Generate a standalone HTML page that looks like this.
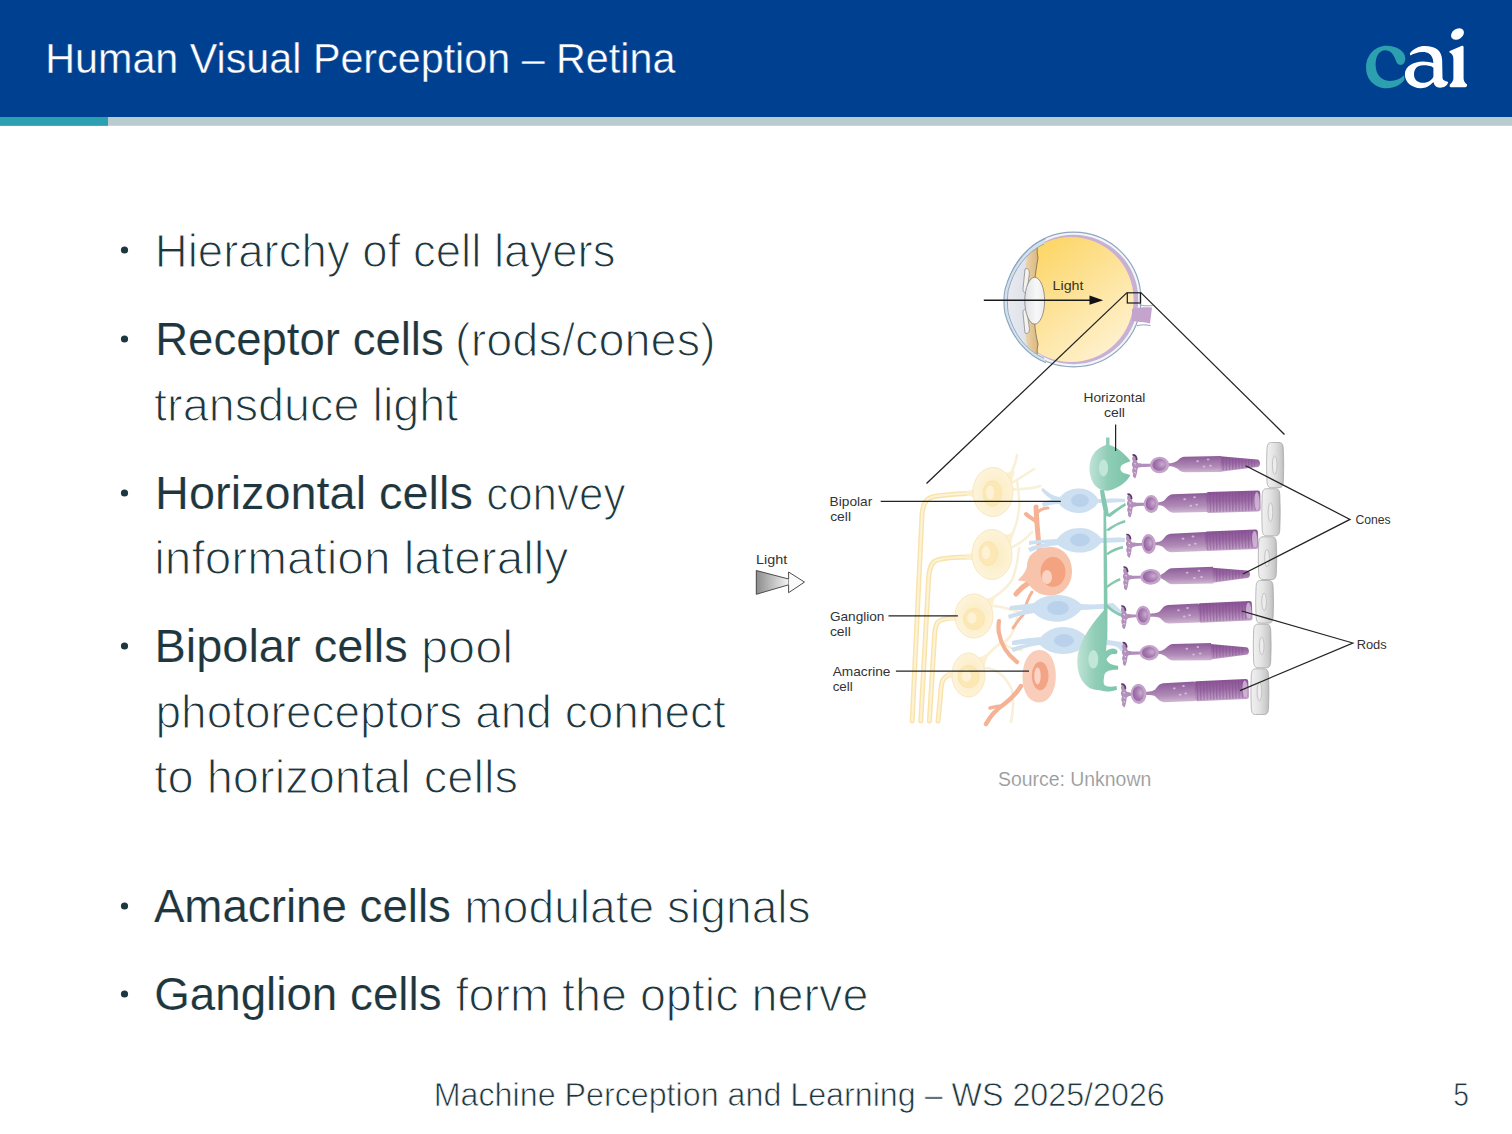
<!DOCTYPE html>
<html><head><meta charset="utf-8"><style>
html,body{margin:0;padding:0;background:#fff;}
svg{display:block;}
text{font-family:"Liberation Sans",sans-serif;white-space:pre;}
</style></head><body>
<svg width="1512" height="1134" viewBox="0 0 1512 1134">
<rect x="0" y="0" width="1512" height="1134" fill="#fff"/>
<rect x="0" y="0" width="1512" height="117.2" fill="#004091"/>
<rect x="0" y="117" width="1512" height="8.8" fill="#b9cbce"/>
<rect x="0" y="117" width="108" height="8.8" fill="#2ca0b0"/>
<g transform="translate(1360,22) scale(0.076057)">
<path fill="#2ca0ae" d="M530,565 C575,565 598,525 595,470 C590,380 480,312 350,312 C190,312 80,440 80,600 C80,760 200,870 350,870 C460,870 540,820 585,760 L580,700 C540,740 470,775 390,775 C270,775 205,680 205,560 C205,440 260,370 330,370 C400,370 440,420 465,490 C480,540 500,565 530,565 Z"/>
<path fill="#fff" fill-rule="evenodd" d="M655,415 C700,350 780,315 850,315 C1000,315 1075,380 1080,500 L1085,740 C1090,770 1120,775 1160,790 C1150,840 1100,865 1055,865 C1000,865 975,830 965,790 C920,840 870,870 800,870 C680,870 590,790 590,690 C590,580 700,525 830,520 C880,520 930,530 965,540 L960,500 C945,430 900,395 820,395 C760,395 700,420 660,440 Z M965,600 C930,575 880,570 830,570 C750,570 710,620 710,690 C710,760 760,800 830,800 C900,800 945,760 965,720 Z"/>
<path fill="#fff" d="M1180,380 L1340,312 C1355,310 1362,318 1362,330 L1362,740 C1362,780 1380,800 1405,820 C1415,835 1405,858 1385,858 L1195,858 C1178,858 1172,840 1185,820 C1210,795 1228,775 1228,740 L1228,490 C1228,440 1210,420 1185,405 C1172,398 1172,385 1180,380 Z"/>
<ellipse fill="#fff" cx="1282" cy="158" rx="92" ry="68" transform="rotate(-35 1282 158)"/>
</g>

<defs>
 <linearGradient id="eyeY" x1="0.15" y1="0.05" x2="0.85" y2="0.95">
  <stop offset="0" stop-color="#fcd45e"/>
  <stop offset="0.5" stop-color="#fde39a"/>
  <stop offset="1" stop-color="#fff2d2"/>
 </linearGradient>
 <linearGradient id="corn" x1="0" y1="0" x2="1" y2="0">
  <stop offset="0" stop-color="#f2f3f7"/>
  <stop offset="1" stop-color="#d8dbe5"/>
 </linearGradient>
 <linearGradient id="tan" x1="0" y1="0" x2="1" y2="0">
  <stop offset="0" stop-color="#ecd6ad"/>
  <stop offset="1" stop-color="#d9b47c"/>
 </linearGradient>
 <linearGradient id="lensg" x1="0" y1="0" x2="1" y2="0">
  <stop offset="0" stop-color="#e2e3e8"/>
  <stop offset="0.6" stop-color="#f8f8f8"/>
  <stop offset="1" stop-color="#ececee"/>
 </linearGradient>
 <clipPath id="eyeclip"><circle cx="1073.5" cy="299.5" r="65.6"/></clipPath>
</defs>
<!-- sclera outer -->
<circle cx="1073.5" cy="299.5" r="67.4" fill="#f3f6f9" stroke="#8ea7bf" stroke-width="1.2"/>
<circle cx="1073.5" cy="299.5" r="64.8" fill="#c8b0d5"/>
<circle cx="1071" cy="299.5" r="62.6" fill="url(#eyeY)"/>
<path d="M1132,309 C1138,307.5 1145,307 1152,307.5 L1150,323.5 C1144,322 1138,321.5 1132,321 Z" fill="#c4a3cc"/><path d="M1139.5,304.8 C1144,306 1148,306 1152.8,305.6 M1137,325.6 C1141,324.6 1146,324.6 1150.6,325.6" fill="none" stroke="#8ea7bf" stroke-width="1"/>
<g clip-path="url(#eyeclip)">
 <path d="M990,225 L1039,225 C1037,240 1036.5,250 1038,258 C1035,275 1033.5,288 1035,301 C1033.5,316 1034.5,330 1038,344 C1036.5,352 1037,362 1039,375 L990,375 Z" fill="url(#corn)"/>
 <path d="M1030,240 L1039,240 C1037,245 1036.5,250 1038,258 C1035,275 1033.5,288 1035,301 C1033.5,316 1034.5,330 1038,344 C1036.5,350 1037,355 1039,362 L1030,362 C1028,350 1025.5,340 1025,325 L1025,276 C1025.5,262 1028,250 1030,240 Z" fill="url(#tan)"/>
 <path d="M1039,238 C1037,245 1036.5,250 1038,258 C1035,275 1033.5,288 1035,301 C1033.5,316 1034.5,330 1038,344 C1036.5,352 1037,356 1039,364" fill="none" stroke="#7b6a50" stroke-width="0.8"/>
</g>
<!-- cornea bulge band -->
<path d="M1046,238.3 C1026,246.5 1011,267 1005,289.5 C1003.6,295.5 1003.6,307.5 1005,313.5 C1011,336 1026,355 1046,362.7 L1044,358.2 C1026,350.5 1013,333 1008.2,312.3 C1007.2,306.5 1007.2,296.5 1008.2,290.7 C1013,270 1026,252.5 1044,243.8 Z" fill="#d4e0ec"/>
<path d="M1046,238.3 C1026,246.5 1011,267 1005,289.5 C1003.6,295.5 1003.6,307.5 1005,313.5 C1011,336 1026,355 1046,362.7" fill="none" stroke="#8aa5c1" stroke-width="1.1"/>
<path d="M1044,243.8 C1026,252.5 1013,270 1008.2,290.7 C1007.2,296.5 1007.2,306.5 1008.2,312.3 C1013,333 1026,350.5 1044,358.2" fill="none" stroke="#8aa3bf" stroke-width="0.9"/>
<!-- iris tabs -->
<path d="M1025,269 C1028,267.5 1030,270 1029.2,275 L1027,291 C1025.5,293.5 1022.5,292.5 1023,289 Z" fill="#f3f2f0" stroke="#7f7f7c" stroke-width="0.7"/>
<path d="M1025,333 C1028,334.5 1030,332 1029.2,327 L1027,311 C1025.5,308.5 1022.5,309.5 1023,313 Z" fill="#f3f2f0" stroke="#7f7f7c" stroke-width="0.7"/>
<!-- lens -->
<ellipse cx="1034.7" cy="300.7" rx="9.9" ry="23.4" fill="url(#lensg)" stroke="#7e7e7e" stroke-width="0.8"/>
<!-- light arrow -->
<line x1="983.8" y1="300.2" x2="1091" y2="300.2" stroke="#1a1a1a" stroke-width="1.4"/>
<path d="M1089.5,295.6 L1103.2,300.2 L1089.5,304.8 Z" fill="#111"/>
<!-- box -->
<rect x="1127.3" y="292.8" width="13.1" height="10.2" fill="none" stroke="#1a1a1a" stroke-width="1.2"/>
<!-- zoom lines -->
<line x1="1127" y1="292.6" x2="926.5" y2="483.5" stroke="#222" stroke-width="1.3"/>
<line x1="1140.6" y1="292.4" x2="1284.5" y2="434.5" stroke="#222" stroke-width="1.3"/>
<!-- ganglion axons -->
<g fill="none" stroke-linecap="round">
 <g stroke="#f8e3ab" stroke-width="5">
  <path d="M975,493 C955,494 942,494.5 932,497 C925,499 922.5,506 922,515 L912.2,721"/>
  <path d="M972,557 C956,557 944,557.5 936,560.5 C930.5,563 929,570 928.5,580 L920.8,721"/>
  <path d="M956,617.8 C947,618 941,619 937.5,622.5 C935,626 934.5,632 934.3,640 L929.4,721"/>
  <path d="M953,674.6 C948,675 944.5,676.5 942.5,681 C941,685 940.7,690 940.5,696 L938,721"/>
 </g>
 <g stroke="#fdf2d4" stroke-width="2.2">
  <path d="M975,493 C955,494 942,494.5 932,497 C925,499 922.5,506 922,515 L912.2,721"/>
  <path d="M972,557 C956,557 944,557.5 936,560.5 C930.5,563 929,570 928.5,580 L920.8,721"/>
  <path d="M956,617.8 C947,618 941,619 937.5,622.5 C935,626 934.5,632 934.3,640 L929.4,721"/>
  <path d="M953,674.6 C948,675 944.5,676.5 942.5,681 C941,685 940.7,690 940.5,696 L938,721"/>
 </g>
 <!-- ganglion dendrites / IPL tangles -->
 <g stroke="#f8f0d8" stroke-width="2.6">
  <path d="M1008,478 C1013,470 1016,462 1017,455"/>
  <path d="M1010,484 C1020,478 1028,473 1034,469"/>
  <path d="M1011,490 C1022,488 1030,490 1040,486"/>
  <path d="M1009,540 C1014,532 1018,522 1019,508 C1020,498 1018,490 1017,480"/>
  <path d="M1010,548 C1018,545 1025,540 1032,532"/>
  <path d="M990,600 C998,594 1006,590 1012,580 C1016,570 1018,560 1019,548"/>
  <path d="M989,606 C1000,605 1010,610 1020,612"/>
  <path d="M983,660 C990,652 996,645 1003,642 C1010,640 1015,630 1017,618"/>
  <path d="M984,668 C995,668 1005,675 1012,690 C1014,700 1013,712 1011,722"/>
  <path d="M1003,642 C1008,648 1014,650 1022,650"/>
 </g>
</g>
<!-- ganglion somas -->
<path d="M983.0,473.6 C975.0,484.6 977,490.5 967,490.9 L967,496.1 C977,496.5 975.0,499.4 983.0,510.4 Z" fill="#fcefcc"/>
<path d="M997.0,469.9 C1005.0,472.4 1008,474 1013,470 L1015,472 C1012,478 1011.0,489.6 1011.0,496.9 Z" fill="#fcf0d2"/>
<ellipse cx="993" cy="492" rx="20" ry="24.5" fill="url(#gang)" stroke="#f9e8bc" stroke-width="1"/>
<path d="M982.0,535.8 C974.0,547.0 976,554 966,554.4 L966,559.6 C976,560 974.0,562.0 982.0,573.2 Z" fill="#fcefcc"/>
<path d="M996.0,532.0 C1004.0,534.5 1007,536 1012,532 L1014,534 C1011,540 1010.0,552.0 1010.0,559.5 Z" fill="#fcf0d2"/>
<ellipse cx="992" cy="554.5" rx="20" ry="25" fill="url(#gang)" stroke="#f9e8bc" stroke-width="1"/>
<path d="M964.5,599.5 C956.9,609.4 960,614.8 950,615.1999999999999 L950,620.4 C960,620.8 956.9,622.6 964.5,632.5 Z" fill="#fcefcc"/>
<path d="M977.8,596.2 C985.4,598.4 988,600 993,596 L995,598 C992,604 991.1,613.8 991.1,620.4 Z" fill="#fcf0d2"/>
<ellipse cx="974" cy="616" rx="19" ry="22" fill="url(#gang)" stroke="#f9e8bc" stroke-width="1"/>
<path d="M960.2,658.5 C953.6,668.4 957,671.6 947,672.0 L947,677.2 C957,677.6 953.6,681.6 960.2,691.5 Z" fill="#fcefcc"/>
<path d="M971.8,655.2 C978.4,657.4 981,658 986,654 L988,656 C985,662 983.4,672.8 983.4,679.4 Z" fill="#fcf0d2"/>
<ellipse cx="968.5" cy="675" rx="16.5" ry="22" fill="url(#gang)" stroke="#f9e8bc" stroke-width="1"/>
<ellipse cx="992.4" cy="493.5" rx="9.2" ry="12.7" fill="#fbe8b4" stroke="#f9e3ab" stroke-width="0.8"/>
<ellipse cx="990.2" cy="492.5" rx="4.1" ry="7.0" fill="#fdf2d6"/>
<ellipse cx="988.2" cy="553.6" rx="9.2" ry="12" fill="#fbe8b4" stroke="#f9e3ab" stroke-width="0.8"/>
<ellipse cx="986.0" cy="552.6" rx="4.1" ry="6.6" fill="#fdf2d6"/>
<ellipse cx="974" cy="619" rx="10.5" ry="10.6" fill="#fbe8b4" stroke="#f9e3ab" stroke-width="0.8"/>
<ellipse cx="971.8" cy="618.0" rx="4.7" ry="5.8" fill="#fdf2d6"/>
<ellipse cx="968.6" cy="676.6" rx="10.6" ry="11.2" fill="#fbe8b4" stroke="#f9e3ab" stroke-width="0.8"/>
<ellipse cx="966.4" cy="675.6" rx="4.8" ry="6.2" fill="#fdf2d6"/>
<!-- amacrine processes -->
<g fill="none" stroke="#f5b295" stroke-linecap="round">
 <path d="M1040,553 C1038,540 1037,525 1036,507" stroke-width="5"/>
 <path d="M1037,522 C1033,519 1029,517 1026,514" stroke-width="4"/>
 <path d="M1038,512 C1041,509 1044,508 1048,508" stroke-width="3"/>
 <path d="M1030,582 C1025,585 1020,589 1016,594" stroke-width="5"/>
 <path d="M1032,592 C1028,598 1026,604 1024,612" stroke-width="3"/>
 <path d="M1017,662 C1008,655 1001,645 999,633 C998,628 998.5,624 999,621" stroke-width="4.2"/>
 <path d="M1021,686 C1016,694 1010,700 1003,705 C997,709 991,715 986,724" stroke-width="4.5"/>
 <path d="M1002,706 C998,706 994,707 990,708" stroke-width="3.5"/>
 <path d="M1013,628 C1017,622 1020,618 1023,615" stroke-width="3"/>
</g>
<!-- amacrine somas -->
<path d="M1030,556 C1036,549 1044,546.5 1052,547 C1064,548 1072,558 1072,571 C1072,585 1063,595.5 1050,595.5 C1040,595.5 1032,590 1028,583 C1024,580 1020,582 1018,580 C1022,576 1026,572 1027,566 C1027,562 1028,559 1030,556 Z" fill="#f8c3ab"/>
<ellipse cx="1053" cy="572" rx="12.5" ry="15" fill="#f4a381"/>
<ellipse cx="1047" cy="577" rx="5" ry="7" fill="#fbd3c1"/>
<path d="M1039.5,650 C1050,650 1055.8,662 1055.8,676 C1055.8,691 1049,702.4 1039,702.4 C1029,702.4 1022.5,692 1022.5,677 C1022.5,662 1029,650 1039.5,650 Z" fill="#f9cdb9"/>
<ellipse cx="1040.2" cy="676" rx="8.4" ry="14.2" fill="#f4a486"/>
<ellipse cx="1037.5" cy="676" rx="3.2" ry="8.5" fill="#fbd6c6"/>
<!-- bipolar cells -->
<g fill="#cde0f2">
 <path d="M1043,488 C1048,492 1052,496 1060,497 C1066,490 1073,488.5 1080,488.5 C1089,488.5 1095,494 1098,499 C1106,499 1115,498 1125,499 L1125,502 C1115,502.5 1106,503 1098,503 C1094,509 1087,513 1079,513 C1071,513 1064,510 1059,504 C1053,504 1048,505 1043,507 L1042,503 C1046,501 1049,500 1052,500 C1048,497 1044,494 1041,490 Z"/>
 <path d="M1029,541 C1036,540 1044,540 1057,539 C1063,531 1071,528 1080,528 C1090,528 1097,533 1101,538 C1109,538 1117,537 1125,538 L1125,542 C1117,542 1109,543 1101,543 C1097,548 1090,552.6 1080,552.6 C1070,552.6 1063,549 1058,545 C1048,546 1040,548 1030,552 L1028,548 C1036,545 1041,544 1046,543 C1040,543 1035,544 1029,545 Z"/>
 <path d="M1010,606 C1018,605 1026,604 1034,603 C1039,598 1047,595 1057,595 C1068,595 1076,599 1081,604 C1092,605 1104,604 1113,603 C1117,606 1120,610 1123,613 L1120,615 C1115,611 1112,609 1108,608.5 C1100,609 1090,609.5 1081,610 C1076,616 1068,621.7 1057,621.7 C1047,621.7 1039,618 1034,613 C1026,614 1018,616 1009,619 L1008,615 C1015,613 1020,611 1024,610 C1019,610 1014,610 1009,610 Z"/>
 <path d="M1012,641 C1020,639 1029,638 1041,637 C1046,631 1054,627 1063,627 C1073,627 1081,631 1087,637 C1097,638 1108,640 1121,642 C1123,645 1124,648 1124,651 L1121,651 C1119,648 1116,646 1112,645.5 C1104,645 1095,644 1087,643 C1082,650 1074,654 1063,654 C1053,654 1045,650 1040,645 C1032,646 1023,648 1013,652 L1011,648 C1017,646 1022,645 1027,644 C1022,644 1017,645 1012,645 Z"/>
</g>
<g fill="#b9d1ea">
 <ellipse cx="1080" cy="500.5" rx="9" ry="6.5"/>
 <ellipse cx="1080" cy="540" rx="10" ry="6.5"/>
 <ellipse cx="1058" cy="608" rx="11" ry="7"/>
 <ellipse cx="1064" cy="640.5" rx="10" ry="6.5"/>
</g>
<!-- horizontal cells -->
<g fill="#85c8b0">
 <path d="M1104.5,516 C1103,508 1101,500 1100,490 L1104,490 C1106,500 1108,508 1109,516 Z"/>
 <path d="M1106,510 C1107,560 1108,600 1107.3,640 L1104,640 C1104,600 1103.5,560 1103.5,512 Z"/>
 <path d="M1105.5,516 C1113,511 1118,507 1125,503 L1126,505.5 C1120,509 1115,513 1110,517 Z"/>
 <path d="M1105.5,530 C1113,525 1118,522 1125,520 L1125.5,522.5 C1119,524 1114,527 1109,531 Z"/>
 <path d="M1105.5,554 C1112,549 1117,547 1123,546 L1123,548.5 C1117,550 1112,552 1108,555 Z"/>
 <path d="M1105.5,587 C1111,582 1115,580 1120,578 L1120.5,580.5 C1115.5,582 1111.5,585 1107.5,588 Z"/>
 <path d="M1106,603 C1111,608 1116,612 1122,614 L1121,616.5 C1115,614.5 1109,610 1105,606 Z"/>
</g>
<path d="M1106,437.5 L1109.5,437.5 L1109.5,445 C1117,447 1124,453 1130.5,461 C1128,462.5 1124.5,463.2 1122.3,464.8 C1119.8,466.8 1119.8,470.2 1122.3,472.2 C1124.5,473.6 1128,474 1130.5,475 C1127,482 1119,488 1109,490.5 C1098,492 1091,484 1089.5,471 C1089,458 1094,449 1106,445 Z" fill="url(#horiz)"/>
<ellipse cx="1103.5" cy="468" rx="4.6" ry="8.5" fill="#c2e6d9"/>
<path d="M1104,610 C1107,622 1107.5,640 1106,651 C1109,649 1113,647.5 1116,649.5 C1118.5,651 1117.5,654.5 1115,654.2 C1112,653.5 1108,655.5 1106.5,659.5 C1108,663.5 1112,665.2 1118,665.8 L1118.3,669.6 C1111,670 1106.5,670.5 1104.5,674.5 C1103.5,680 1103,683.5 1105,685.5 C1108.5,687 1112,687 1116.5,686 L1117,689.8 C1111.5,691.5 1106,692.5 1101,690.5 C1097,689.5 1093,690 1089.5,688 C1080.5,682 1077,672 1077.3,660 C1077.6,645 1088,628 1104,610 Z" fill="url(#horiz)"/>
<ellipse cx="1093.3" cy="659.3" rx="5" ry="9.3" fill="#c2e6d9"/>
<defs>
 <linearGradient id="prg" x1="0" y1="0" x2="0" y2="1">
  <stop offset="0" stop-color="#8c5c97"/>
  <stop offset="0.3" stop-color="#9e72a8"/>
  <stop offset="0.65" stop-color="#b08bb6"/>
  <stop offset="1" stop-color="#cfb6d2"/>
 </linearGradient>
 <linearGradient id="prgo" x1="0" y1="0" x2="0" y2="1">
  <stop offset="0" stop-color="#8a5394"/>
  <stop offset="0.45" stop-color="#9b6aa4"/>
  <stop offset="1" stop-color="#c4a6c9"/>
 </linearGradient>
 <radialGradient id="prn" cx="0.72" cy="0.45" r="0.75">
  <stop offset="0" stop-color="#c9abd0"/>
  <stop offset="0.5" stop-color="#a77db1"/>
  <stop offset="1" stop-color="#955f9f"/>
 </radialGradient>
 <pattern id="stripe" width="3.2" height="40" patternUnits="userSpaceOnUse">
  <rect x="0" y="0" width="1.3" height="40" fill="#7e4a8b" opacity="0.45"/>
 </pattern>
 <linearGradient id="pe" x1="0" y1="0" x2="1" y2="0">
  <stop offset="0" stop-color="#f1f1f1"/>
  <stop offset="0.45" stop-color="#e3e3e3"/>
  <stop offset="0.85" stop-color="#cbcbcb"/>
  <stop offset="1" stop-color="#b9b9b9"/>
 </linearGradient>
 <linearGradient id="arrowg" x1="0" y1="0" x2="1" y2="0">
  <stop offset="0" stop-color="#8c8c8c"/>
  <stop offset="1" stop-color="#f4f4f4"/>
 </linearGradient>
 <radialGradient id="gang" cx="0.55" cy="0.5" r="0.55">
  <stop offset="0" stop-color="#fbebbf"/>
  <stop offset="1" stop-color="#fdf4dc"/>
 </radialGradient>
 <radialGradient id="amac" cx="0.6" cy="0.5" r="0.6">
  <stop offset="0" stop-color="#f4a584"/>
  <stop offset="0.6" stop-color="#f6b699"/>
  <stop offset="1" stop-color="#fbd6c6"/>
 </radialGradient>
 <linearGradient id="horiz" x1="0" y1="0" x2="1" y2="0">
  <stop offset="0" stop-color="#bfe3d6"/>
  <stop offset="0.45" stop-color="#8fcdb7"/>
  <stop offset="1" stop-color="#7bc4aa"/>
 </linearGradient>
</defs>
<path d="M1271.3,442.5 L1279.0,442.5 C1282.0,442.5 1283.0,444.5 1283.3,448.5 C1283.8,465.1 1283.8,465.1 1283.3,481.7 C1283.0,485.7 1282.0,487.7 1279.0,487.7 L1271.3,487.7 C1268.3,487.7 1267.3,485.7 1267.0,481.7 C1266.5,465.1 1266.5,465.1 1267.0,448.5 C1267.3,444.5 1268.3,442.5 1271.3,442.5 Z" fill="url(#pe)" stroke="#a9a9a9" stroke-width="0.8"/>
<ellipse cx="1274.7" cy="465.1" rx="2.3" ry="9.2" fill="#ececec" stroke="#b5b5b5" stroke-width="0.7"/>
<path d="M1266.5,488.7 L1275.5,488.7 C1278.5,488.7 1279.5,490.7 1279.8,494.7 C1280.3,512.25 1280.3,512.25 1279.8,529.8 C1279.5,533.8 1278.5,535.8 1275.5,535.8 L1266.5,535.8 C1263.5,535.8 1262.5,533.8 1262.2,529.8 C1261.7,512.25 1261.7,512.25 1262.2,494.7 C1262.5,490.7 1263.5,488.7 1266.5,488.7 Z" fill="url(#pe)" stroke="#a9a9a9" stroke-width="0.8"/>
<ellipse cx="1270.5" cy="512.2" rx="2.3" ry="9.6" fill="#ececec" stroke="#b5b5b5" stroke-width="0.7"/>
<path d="M1263.0,536.8 L1272.0,536.8 C1275.0,536.8 1276.0,538.8 1276.3,542.8 C1276.8,558.15 1276.8,558.15 1276.3,573.5 C1276.0,577.5 1275.0,579.5 1272.0,579.5 L1263.0,579.5 C1260.0,579.5 1259.0,577.5 1258.7,573.5 C1258.2,558.15 1258.2,558.15 1258.7,542.8 C1259.0,538.8 1260.0,536.8 1263.0,536.8 Z" fill="url(#pe)" stroke="#a9a9a9" stroke-width="0.8"/>
<ellipse cx="1267.0" cy="558.1" rx="2.3" ry="8.7" fill="#ececec" stroke="#b5b5b5" stroke-width="0.7"/>
<path d="M1260.4,580.5 L1268.8,580.5 C1271.8,580.5 1272.8,582.5 1273.1,586.5 C1273.6,601.8 1273.6,601.8 1273.1,617.1 C1272.8,621.1 1271.8,623.1 1268.8,623.1 L1260.4,623.1 C1257.4,623.1 1256.4,621.1 1256.1000000000001,617.1 C1255.6000000000001,601.8 1255.6000000000001,601.8 1256.1000000000001,586.5 C1256.4,582.5 1257.4,580.5 1260.4,580.5 Z" fill="url(#pe)" stroke="#a9a9a9" stroke-width="0.8"/>
<ellipse cx="1264.1" cy="601.8" rx="2.3" ry="8.7" fill="#ececec" stroke="#b5b5b5" stroke-width="0.7"/>
<path d="M1258.0,624.1 L1266.4,624.1 C1269.4,624.1 1270.4,626.1 1270.7,630.1 C1271.2,645.95 1271.2,645.95 1270.7,661.8 C1270.4,665.8 1269.4,667.8 1266.4,667.8 L1258.0,667.8 C1255.0,667.8 1254.0,665.8 1253.7,661.8 C1253.2,645.95 1253.2,645.95 1253.7,630.1 C1254.0,626.1 1255.0,624.1 1258.0,624.1 Z" fill="url(#pe)" stroke="#a9a9a9" stroke-width="0.8"/>
<ellipse cx="1261.7" cy="646.0" rx="2.3" ry="8.9" fill="#ececec" stroke="#b5b5b5" stroke-width="0.7"/>
<path d="M1255.6,668.8 L1264.2,668.8 C1267.2,668.8 1268.2,670.8 1268.5,674.8 C1269.0,691.65 1269.0,691.65 1268.5,708.5 C1268.2,712.5 1267.2,714.5 1264.2,714.5 L1255.6,714.5 C1252.6,714.5 1251.6,712.5 1251.3,708.5 C1250.8,691.65 1250.8,691.65 1251.3,674.8 C1251.6,670.8 1252.6,668.8 1255.6,668.8 Z" fill="url(#pe)" stroke="#a9a9a9" stroke-width="0.8"/>
<ellipse cx="1259.4" cy="691.6" rx="2.3" ry="9.3" fill="#ececec" stroke="#b5b5b5" stroke-width="0.7"/>
<g transform="rotate(-1.0 1159.6 465.0)"><path d="M1133.5,455.0 C1136,456.0 1137.5,459.0 1137.5,462.0 C1138.5,463.2 1140,463.2 1141,463.2 L1141,466.8 C1140,466.8 1138.5,467.0 1137.5,468.5 C1137,472.0 1136.5,475.0 1135,478.0 C1133,477.0 1132,475.0 1133,473.0 C1131.5,471.0 1132,469.0 1133,467.0 C1131.5,465.0 1131.5,463.0 1133,461.0 C1132,459.0 1132,457.0 1133.5,455.0 Z" fill="#b391bc"/><path d="M1132.7,454.5 C1135.5,454.5 1136.8,457.0 1136.8,459.5" stroke="#5b3866" stroke-width="1.7" fill="none"/><path d="M1134.5,463.0 l1.5,0.8 M1134.5,468.0 l1.5,0.8 M1134.2,472.0 l1.5,0.8" stroke="#f3eaf4" stroke-width="0.9" fill="none"/><path d="M1139,463.1 C1143,463.5 1147.8999999999999,463.6 1151.8999999999999,463.4 L1151.8999999999999,466.6 C1147.8999999999999,466.4 1143,466.5 1139,466.9 Z" fill="#b08dba"/><path d="M1166.8,463.4 C1170.3,463.6 1172.5,463.4 1175.5,462.0 C1178.5,461.25 1179.5,457.75 1184.5,457.25 L1221,456.95 L1221,473.05 L1184.5,472.75 C1179.5,472.25 1178.5,468.75 1175.5,468.0 C1172.5,466.6 1170.3,466.4 1166.8,466.6 Z" fill="url(#prg)"/><path d="M1220.5,457.25 L1257.2,461.2 C1261,461.2 1261,468.8 1257.2,468.8 L1220.5,472.75 Z" fill="url(#prgo)"/><path d="M1222,458.25 L1255.2,461.7 L1255.2,468.3 L1222,471.75 Z" fill="url(#stripe)"/><ellipse cx="1197.6" cy="461.9" rx="1.4" ry="1" fill="#dcc6e0" opacity="0.8"/><ellipse cx="1204.0" cy="467.3" rx="1.4" ry="1" fill="#dcc6e0" opacity="0.8"/><ellipse cx="1208.2" cy="460.4" rx="1.4" ry="1" fill="#dcc6e0" opacity="0.8"/><ellipse cx="1210.4" cy="466.6" rx="1.4" ry="1" fill="#dcc6e0" opacity="0.8"/><ellipse cx="1159.6" cy="465.0" rx="9.5" ry="8.2" fill="#c3a3ca"/><ellipse cx="1159.3" cy="464.8" rx="6.79" ry="5.93" fill="url(#prn)"/></g>
<g transform="rotate(-1.6 1151.2 504.0)"><path d="M1128.5,494.0 C1131,495.0 1132.5,498.0 1132.5,501.0 C1133.5,502.2 1135,502.2 1136,502.2 L1136,505.8 C1135,505.8 1133.5,506.0 1132.5,507.5 C1132,511.0 1131.5,514.0 1130,517.0 C1128,516.0 1127,514.0 1128,512.0 C1126.5,510.0 1127,508.0 1128,506.0 C1126.5,504.0 1126.5,502.0 1128,500.0 C1127,498.0 1127,496.0 1128.5,494.0 Z" fill="#b391bc"/><path d="M1127.7,493.5 C1130.5,493.5 1131.8,496.0 1131.8,498.5" stroke="#5b3866" stroke-width="1.7" fill="none"/><path d="M1129.5,502.0 l1.5,0.8 M1129.5,507.0 l1.5,0.8 M1129.2,511.0 l1.5,0.8" stroke="#f3eaf4" stroke-width="0.9" fill="none"/><path d="M1134,502.1 C1138,502.5 1141.7,502.6 1145.7,502.4 L1145.7,505.6 C1141.7,505.4 1138,505.5 1134,505.9 Z" fill="#b08dba"/><path d="M1156.2,502.4 C1159.7,502.6 1161.0,502.4 1164.0,501.0 C1167.0,498.75 1168.0,495.25 1173.0,494.75 L1206.6,494.45 L1206.6,513.55 L1173.0,513.25 C1168.0,512.75 1167.0,509.25 1164.0,507.0 C1161.0,505.6 1159.7,505.4 1156.2,505.6 Z" fill="url(#prg)"/><rect x="1206.1" y="493.5" width="54.40000000000009" height="21.0" rx="2.5" fill="url(#prgo)"/><rect x="1207.6" y="494.5" width="49.90000000000009" height="19.0" fill="url(#stripe)"/><ellipse cx="1257.0" cy="504.0" rx="2.6" ry="9.0" fill="#d7bddc" opacity="0.8"/><ellipse cx="1184.8" cy="500.3" rx="1.4" ry="1" fill="#dcc6e0" opacity="0.8"/><ellipse cx="1190.8" cy="506.8" rx="1.4" ry="1" fill="#dcc6e0" opacity="0.8"/><ellipse cx="1194.7" cy="498.4" rx="1.4" ry="1" fill="#dcc6e0" opacity="0.8"/><ellipse cx="1196.7" cy="505.9" rx="1.4" ry="1" fill="#dcc6e0" opacity="0.8"/><ellipse cx="1151.2" cy="504.0" rx="7.3" ry="9.0" fill="#c3a3ca"/><ellipse cx="1150.9" cy="503.8" rx="5.07" ry="6.55" fill="url(#prn)"/></g>
<g transform="rotate(-2.6 1148.7 544.0)"><path d="M1127.5,534.0 C1130,535.0 1131.5,538.0 1131.5,541.0 C1132.5,542.2 1134,542.2 1135,542.2 L1135,545.8 C1134,545.8 1132.5,546.0 1131.5,547.5 C1131,551.0 1130.5,554.0 1129,557.0 C1127,556.0 1126,554.0 1127,552.0 C1125.5,550.0 1126,548.0 1127,546.0 C1125.5,544.0 1125.5,542.0 1127,540.0 C1126,538.0 1126,536.0 1127.5,534.0 Z" fill="#b391bc"/><path d="M1126.7,533.5 C1129.5,533.5 1130.8,536.0 1130.8,538.5" stroke="#5b3866" stroke-width="1.7" fill="none"/><path d="M1128.5,542.0 l1.5,0.8 M1128.5,547.0 l1.5,0.8 M1128.2,551.0 l1.5,0.8" stroke="#f3eaf4" stroke-width="0.9" fill="none"/><path d="M1133,542.1 C1137,542.5 1139.5,542.6 1143.5,542.4 L1143.5,545.6 C1139.5,545.4 1137,545.5 1133,545.9 Z" fill="#b08dba"/><path d="M1153.4,542.4 C1156.9,542.6 1159.0,542.4 1162.0,541.0 C1165.0,538.75 1166.0,535.25 1171.0,534.75 L1205.5,534.45 L1205.5,553.55 L1171.0,553.25 C1166.0,552.75 1165.0,549.25 1162.0,547.0 C1159.0,545.6 1156.9,545.4 1153.4,545.6 Z" fill="url(#prg)"/><rect x="1205.0" y="534.25" width="53.299999999999955" height="19.5" rx="2.5" fill="url(#prgo)"/><rect x="1206.5" y="535.25" width="48.799999999999955" height="17.5" fill="url(#stripe)"/><ellipse cx="1254.8" cy="544.0" rx="2.6" ry="8.25" fill="#d7bddc" opacity="0.8"/><ellipse cx="1183.2" cy="540.3" rx="1.4" ry="1" fill="#dcc6e0" opacity="0.8"/><ellipse cx="1189.3" cy="546.8" rx="1.4" ry="1" fill="#dcc6e0" opacity="0.8"/><ellipse cx="1193.3" cy="538.5" rx="1.4" ry="1" fill="#dcc6e0" opacity="0.8"/><ellipse cx="1195.4" cy="545.9" rx="1.4" ry="1" fill="#dcc6e0" opacity="0.8"/><ellipse cx="1148.7" cy="544.0" rx="7.0" ry="10.0" fill="#c3a3ca"/><ellipse cx="1148.4" cy="543.8" rx="4.84" ry="7.33" fill="url(#prn)"/></g>
<g transform="rotate(-1.5 1150.6 576.8)"><path d="M1124.5,566.8 C1127,567.8 1128.5,570.8 1128.5,573.8 C1129.5,575.0 1131,575.0 1132,575.0 L1132,578.5999999999999 C1131,578.5999999999999 1129.5,578.8 1128.5,580.3 C1128,583.8 1127.5,586.8 1126,589.8 C1124,588.8 1123,586.8 1124,584.8 C1122.5,582.8 1123,580.8 1124,578.8 C1122.5,576.8 1122.5,574.8 1124,572.8 C1123,570.8 1123,568.8 1124.5,566.8 Z" fill="#b391bc"/><path d="M1123.7,566.3 C1126.5,566.3 1127.8,568.8 1127.8,571.3" stroke="#5b3866" stroke-width="1.7" fill="none"/><path d="M1125.5,574.8 l1.5,0.8 M1125.5,579.8 l1.5,0.8 M1125.2,583.8 l1.5,0.8" stroke="#f3eaf4" stroke-width="0.9" fill="none"/><path d="M1130,574.9 C1134,575.3 1138.0,575.4 1142.0,575.1999999999999 L1142.0,578.4 C1138.0,578.1999999999999 1134,578.3 1130,578.6999999999999 Z" fill="#b08dba"/><path d="M1158.6999999999998,575.1999999999999 C1162.1999999999998,575.4 1160.0,575.1999999999999 1163.0,573.8 C1166.0,572.8 1167.0,569.3 1172.0,568.8 L1213.3,568.5 L1213.3,585.0999999999999 L1172.0,584.8 C1167.0,584.3 1166.0,580.8 1163.0,579.8 C1160.0,578.4 1162.1999999999998,578.1999999999999 1158.6999999999998,578.4 Z" fill="url(#prg)"/><path d="M1212.8,569.3 L1247.2,573.0 C1251.0,573.0 1251.0,580.5999999999999 1247.2,580.5999999999999 L1212.8,584.3 Z" fill="url(#prgo)"/><path d="M1214.3,570.3 L1245.2,573.5 L1245.2,580.0999999999999 L1214.3,583.3 Z" fill="url(#stripe)"/><ellipse cx="1187.3" cy="573.6" rx="1.4" ry="1" fill="#dcc6e0" opacity="0.8"/><ellipse cx="1194.4" cy="579.2" rx="1.4" ry="1" fill="#dcc6e0" opacity="0.8"/><ellipse cx="1199.1" cy="572.0" rx="1.4" ry="1" fill="#dcc6e0" opacity="0.8"/><ellipse cx="1201.5" cy="578.4" rx="1.4" ry="1" fill="#dcc6e0" opacity="0.8"/><ellipse cx="1150.6" cy="576.8" rx="10.4" ry="7.8999999999999995" fill="#c3a3ca"/><ellipse cx="1150.3" cy="576.5999999999999" rx="7.49" ry="5.69" fill="url(#prn)"/></g>
<g transform="rotate(-2.6 1143.3 615.5)"><path d="M1122.5,605.5 C1125,606.5 1126.5,609.5 1126.5,612.5 C1127.5,613.7 1129,613.7 1130,613.7 L1130,617.3 C1129,617.3 1127.5,617.5 1126.5,619.0 C1126,622.5 1125.5,625.5 1124,628.5 C1122,627.5 1121,625.5 1122,623.5 C1120.5,621.5 1121,619.5 1122,617.5 C1120.5,615.5 1120.5,613.5 1122,611.5 C1121,609.5 1121,607.5 1122.5,605.5 Z" fill="#b391bc"/><path d="M1121.7,605.0 C1124.5,605.0 1125.8,607.5 1125.8,610.0" stroke="#5b3866" stroke-width="1.7" fill="none"/><path d="M1123.5,613.5 l1.5,0.8 M1123.5,618.5 l1.5,0.8 M1123.2,622.5 l1.5,0.8" stroke="#f3eaf4" stroke-width="0.9" fill="none"/><path d="M1128,613.6 C1132,614.0 1133.8,614.1 1137.8,613.9 L1137.8,617.1 C1133.8,616.9 1132,617.0 1128,617.4 Z" fill="#b08dba"/><path d="M1148.3,613.9 C1151.8,614.1 1156.4,613.9 1159.4,612.5 C1162.4,610.25 1163.4,606.75 1168.4,606.25 L1198.7,605.95 L1198.7,625.05 L1168.4,624.75 C1163.4,624.25 1162.4,620.75 1159.4,618.5 C1156.4,617.1 1151.8,616.9 1148.3,617.1 Z" fill="url(#prg)"/><rect x="1198.2" y="605.75" width="54.09999999999991" height="19.5" rx="2.5" fill="url(#prgo)"/><rect x="1199.7" y="606.75" width="49.59999999999991" height="17.5" fill="url(#stripe)"/><ellipse cx="1248.8" cy="615.5" rx="2.6" ry="8.25" fill="#d7bddc" opacity="0.8"/><ellipse cx="1178.7" cy="611.8" rx="1.4" ry="1" fill="#dcc6e0" opacity="0.8"/><ellipse cx="1184.2" cy="618.3" rx="1.4" ry="1" fill="#dcc6e0" opacity="0.8"/><ellipse cx="1187.8" cy="610.0" rx="1.4" ry="1" fill="#dcc6e0" opacity="0.8"/><ellipse cx="1189.6" cy="617.4" rx="1.4" ry="1" fill="#dcc6e0" opacity="0.8"/><ellipse cx="1143.3" cy="615.5" rx="7.3" ry="9.799999999999999" fill="#c3a3ca"/><ellipse cx="1143.0" cy="615.3" rx="5.07" ry="7.18" fill="url(#prn)"/></g>
<g transform="rotate(-1.0 1149.3 652.7)"><path d="M1123.5,642.7 C1126,643.7 1127.5,646.7 1127.5,649.7 C1128.5,650.9000000000001 1130,650.9000000000001 1131,650.9000000000001 L1131,654.5 C1130,654.5 1128.5,654.7 1127.5,656.2 C1127,659.7 1126.5,662.7 1125,665.7 C1123,664.7 1122,662.7 1123,660.7 C1121.5,658.7 1122,656.7 1123,654.7 C1121.5,652.7 1121.5,650.7 1123,648.7 C1122,646.7 1122,644.7 1123.5,642.7 Z" fill="#b391bc"/><path d="M1122.7,642.2 C1125.5,642.2 1126.8,644.7 1126.8,647.2" stroke="#5b3866" stroke-width="1.7" fill="none"/><path d="M1124.5,650.7 l1.5,0.8 M1124.5,655.7 l1.5,0.8 M1124.2,659.7 l1.5,0.8" stroke="#f3eaf4" stroke-width="0.9" fill="none"/><path d="M1129,650.8000000000001 C1133,651.2 1137.3999999999999,651.3000000000001 1141.3999999999999,651.1 L1141.3999999999999,654.3000000000001 C1137.3999999999999,654.1 1133,654.2 1129,654.6 Z" fill="#b08dba"/><path d="M1156.7,651.1 C1160.2,651.3000000000001 1161.0,651.1 1164.0,649.7 C1167.0,648.45 1168.0,644.95 1173.0,644.45 L1211.2,644.1500000000001 L1211.2,661.25 L1173.0,660.95 C1168.0,660.45 1167.0,656.95 1164.0,655.7 C1161.0,654.3000000000001 1160.2,654.1 1156.7,654.3000000000001 Z" fill="url(#prg)"/><path d="M1210.7,644.95 L1246.1000000000001,648.9000000000001 C1249.9,648.9000000000001 1249.9,656.5 1246.1000000000001,656.5 L1210.7,660.45 Z" fill="url(#prgo)"/><path d="M1212.2,645.95 L1244.1000000000001,649.4000000000001 L1244.1000000000001,656.0 L1212.2,659.45 Z" fill="url(#stripe)"/><ellipse cx="1186.9" cy="649.4" rx="1.4" ry="1" fill="#dcc6e0" opacity="0.8"/><ellipse cx="1193.5" cy="655.2" rx="1.4" ry="1" fill="#dcc6e0" opacity="0.8"/><ellipse cx="1197.9" cy="647.8" rx="1.4" ry="1" fill="#dcc6e0" opacity="0.8"/><ellipse cx="1200.2" cy="654.4" rx="1.4" ry="1" fill="#dcc6e0" opacity="0.8"/><ellipse cx="1149.3" cy="652.7" rx="9.700000000000001" ry="7.699999999999999" fill="#c3a3ca"/><ellipse cx="1149.0" cy="652.5" rx="6.94" ry="5.54" fill="url(#prn)"/></g>
<g transform="rotate(-2.6 1138.6 693.8)"><path d="M1122.5,683.8 C1125,684.8 1126.5,687.8 1126.5,690.8 C1127.5,692.0 1129,692.0 1130,692.0 L1130,695.5999999999999 C1129,695.5999999999999 1127.5,695.8 1126.5,697.3 C1126,700.8 1125.5,703.8 1124,706.8 C1122,705.8 1121,703.8 1122,701.8 C1120.5,699.8 1121,697.8 1122,695.8 C1120.5,693.8 1120.5,691.8 1122,689.8 C1121,687.8 1121,685.8 1122.5,683.8 Z" fill="#b391bc"/><path d="M1121.7,683.3 C1124.5,683.3 1125.8,685.8 1125.8,688.3" stroke="#5b3866" stroke-width="1.7" fill="none"/><path d="M1123.5,691.8 l1.5,0.8 M1123.5,696.8 l1.5,0.8 M1123.2,700.8 l1.5,0.8" stroke="#f3eaf4" stroke-width="0.9" fill="none"/><path d="M1128,691.9 C1132,692.3 1128.5,692.4 1132.5,692.1999999999999 L1132.5,695.4 C1128.5,695.1999999999999 1132,695.3 1128,695.6999999999999 Z" fill="#b08dba"/><path d="M1144.1999999999998,692.1999999999999 C1147.6999999999998,692.4 1151.6,692.1999999999999 1154.6,690.8 C1157.6,688.3 1158.6,684.8 1163.6,684.3 L1195.1,684.0 L1195.1,703.5999999999999 L1163.6,703.3 C1158.6,702.8 1157.6,699.3 1154.6,696.8 C1151.6,695.4 1147.6999999999998,695.1999999999999 1144.1999999999998,695.4 Z" fill="url(#prg)"/><rect x="1194.6" y="683.8" width="54.100000000000136" height="20.0" rx="2.5" fill="url(#prgo)"/><rect x="1196.1" y="684.8" width="49.600000000000136" height="18.0" fill="url(#stripe)"/><ellipse cx="1245.2" cy="693.8" rx="2.6" ry="8.5" fill="#d7bddc" opacity="0.8"/><ellipse cx="1174.5" cy="690.0" rx="1.4" ry="1" fill="#dcc6e0" opacity="0.8"/><ellipse cx="1180.1" cy="696.6" rx="1.4" ry="1" fill="#dcc6e0" opacity="0.8"/><ellipse cx="1183.8" cy="688.1" rx="1.4" ry="1" fill="#dcc6e0" opacity="0.8"/><ellipse cx="1185.7" cy="695.7" rx="1.4" ry="1" fill="#dcc6e0" opacity="0.8"/><ellipse cx="1138.6" cy="693.8" rx="7.8999999999999995" ry="10.1" fill="#c3a3ca"/><ellipse cx="1138.3" cy="693.5999999999999" rx="5.54" ry="7.41" fill="url(#prn)"/></g><g stroke="#232323" stroke-width="1.25" fill="none">
 <line x1="880.7" y1="501.4" x2="1060.8" y2="501.4"/>
 <line x1="888.5" y1="615.9" x2="957.9" y2="615.9"/>
 <line x1="895.9" y1="671.2" x2="1029" y2="671.2"/>
 <line x1="1115.6" y1="424.5" x2="1115.6" y2="451"/>
 <polyline points="1245.7,465.7 1350,519.4 1243,574"/>
 <polyline points="1241.7,611 1352.8,643 1240,690.6"/>
</g>
<path d="M756.3,570.5 L788.6,579 L788.6,584.8 L756.3,594.3 Z" fill="url(#arrowg)" stroke="#3a3a3a" stroke-width="0.9"/>
<path d="M788.6,579 L788.6,572 L804.5,582.1 L788.6,592.7 L788.6,584.8" fill="#fafafa" stroke="#3a3a3a" stroke-width="0.9"/>

<circle cx="124.5" cy="250" r="3.6" fill="#1e363d"/><circle cx="124.5" cy="339" r="3.6" fill="#1e363d"/><circle cx="124.5" cy="493" r="3.6" fill="#1e363d"/><circle cx="124.5" cy="646" r="3.6" fill="#1e363d"/><circle cx="124.5" cy="906" r="3.6" fill="#1e363d"/><circle cx="124.5" cy="994" r="3.6" fill="#1e363d"/>
<text x="45.25" y="73.24" font-size="42" font-weight="normal" fill="#fff" stroke="#004091" stroke-width="0.4" textLength="630.11" lengthAdjust="spacingAndGlyphs">Human Visual Perception – Retina</text><text x="154.81" y="266.72" font-size="45.7" font-weight="normal" fill="#1e363d" stroke="#fff" stroke-width="1.2" textLength="460.63" lengthAdjust="spacingAndGlyphs">Hierarchy of cell layers</text><text x="155.20" y="355.09" font-size="45.7" font-weight="normal" fill="#1e363d" stroke="#fff" stroke-width="0.15" textLength="288.56" lengthAdjust="spacingAndGlyphs">Receptor cells</text><text x="455.05" y="355.72" font-size="45.7" font-weight="normal" fill="#1e363d" stroke="#fff" stroke-width="1.2" textLength="260.67" lengthAdjust="spacingAndGlyphs">(rods/cones)</text><text x="154.10" y="420.72" font-size="45.7" font-weight="normal" fill="#1e363d" stroke="#fff" stroke-width="1.2" textLength="304.23" lengthAdjust="spacingAndGlyphs">transduce light</text><text x="155.11" y="509.09" font-size="45.7" font-weight="normal" fill="#1e363d" stroke="#fff" stroke-width="0.15" textLength="317.77" lengthAdjust="spacingAndGlyphs">Horizontal cells</text><text x="486.14" y="509.72" font-size="45.7" font-weight="normal" fill="#1e363d" stroke="#fff" stroke-width="1.2" textLength="139.45" lengthAdjust="spacingAndGlyphs">convey</text><text x="154.26" y="573.72" font-size="45.7" font-weight="normal" fill="#1e363d" stroke="#fff" stroke-width="1.2" textLength="414.05" lengthAdjust="spacingAndGlyphs">information laterally</text><text x="154.40" y="662.09" font-size="45.7" font-weight="normal" fill="#1e363d" stroke="#fff" stroke-width="0.15" textLength="253.28" lengthAdjust="spacingAndGlyphs">Bipolar cells</text><text x="420.97" y="662.72" font-size="45.7" font-weight="normal" fill="#1e363d" stroke="#fff" stroke-width="1.2" textLength="92.15" lengthAdjust="spacingAndGlyphs">pool</text><text x="155.49" y="727.72" font-size="45.7" font-weight="normal" fill="#1e363d" stroke="#fff" stroke-width="1.2" textLength="570.32" lengthAdjust="spacingAndGlyphs">photoreceptors and connect</text><text x="154.30" y="792.72" font-size="45.7" font-weight="normal" fill="#1e363d" stroke="#fff" stroke-width="1.2" textLength="363.72" lengthAdjust="spacingAndGlyphs">to horizontal cells</text><text x="153.89" y="922.09" font-size="45.7" font-weight="normal" fill="#1e363d" stroke="#fff" stroke-width="0.15" textLength="297.07" lengthAdjust="spacingAndGlyphs">Amacrine cells</text><text x="464.37" y="922.72" font-size="45.7" font-weight="normal" fill="#1e363d" stroke="#fff" stroke-width="1.2" textLength="346.30" lengthAdjust="spacingAndGlyphs">modulate signals</text><text x="154.18" y="1010.09" font-size="45.7" font-weight="normal" fill="#1e363d" stroke="#fff" stroke-width="0.15" textLength="287.37" lengthAdjust="spacingAndGlyphs">Ganglion cells</text><text x="455.60" y="1010.72" font-size="45.7" font-weight="normal" fill="#1e363d" stroke="#fff" stroke-width="1.2" textLength="412.78" lengthAdjust="spacingAndGlyphs">form the optic nerve</text><text x="997.99" y="786.19" font-size="20.8" font-weight="normal" fill="#969a9c" stroke="#fff" stroke-width="0.15" textLength="153.24" lengthAdjust="spacingAndGlyphs">Source: Unknown</text><text x="433.74" y="1106.05" font-size="34" font-weight="normal" fill="#1e363d" stroke="#fff" stroke-width="0.75" textLength="731.02" lengthAdjust="spacingAndGlyphs">Machine Perception and Learning – WS 2025/2026</text><text x="1453.31" y="1106.05" font-size="34" font-weight="normal" fill="#1e363d" stroke="#fff" stroke-width="0.75" textLength="15.72" lengthAdjust="spacingAndGlyphs">5</text><text x="829.58" y="505.60" font-size="13.4" font-weight="normal" fill="#333333" stroke="none" stroke-width="0" textLength="42.67" lengthAdjust="spacingAndGlyphs">Bipolar</text><text x="830.20" y="520.70" font-size="13.4" font-weight="normal" fill="#333333" stroke="none" stroke-width="0" textLength="20.77" lengthAdjust="spacingAndGlyphs">cell</text><text x="829.90" y="621.30" font-size="13.4" font-weight="normal" fill="#333333" stroke="none" stroke-width="0" textLength="54.56" lengthAdjust="spacingAndGlyphs">Ganglion</text><text x="829.90" y="636.20" font-size="13.4" font-weight="normal" fill="#333333" stroke="none" stroke-width="0" textLength="20.87" lengthAdjust="spacingAndGlyphs">cell</text><text x="832.70" y="675.90" font-size="13.4" font-weight="normal" fill="#333333" stroke="none" stroke-width="0" textLength="57.76" lengthAdjust="spacingAndGlyphs">Amacrine</text><text x="832.70" y="690.50" font-size="13.4" font-weight="normal" fill="#333333" stroke="none" stroke-width="0" textLength="19.98" lengthAdjust="spacingAndGlyphs">cell</text><text x="756.13" y="563.60" font-size="13.4" font-weight="normal" fill="#333333" stroke="none" stroke-width="0" textLength="31.17" lengthAdjust="spacingAndGlyphs">Light</text><text x="1083.47" y="401.60" font-size="13.4" font-weight="normal" fill="#333333" stroke="none" stroke-width="0" textLength="61.90" lengthAdjust="spacingAndGlyphs">Horizontal</text><text x="1104.00" y="416.60" font-size="13.4" font-weight="normal" fill="#333333" stroke="none" stroke-width="0" textLength="20.97" lengthAdjust="spacingAndGlyphs">cell</text><text x="1355.40" y="524.00" font-size="13.4" font-weight="normal" fill="#333333" stroke="none" stroke-width="0" textLength="35.32" lengthAdjust="spacingAndGlyphs">Cones</text><text x="1356.64" y="649.00" font-size="13.4" font-weight="normal" fill="#333333" stroke="none" stroke-width="0" textLength="30.07" lengthAdjust="spacingAndGlyphs">Rods</text><text x="1052.64" y="289.80" font-size="13.4" font-weight="normal" fill="#3b3226" stroke="none" stroke-width="0" textLength="30.87" lengthAdjust="spacingAndGlyphs">Light</text>
</svg>
</body></html>
